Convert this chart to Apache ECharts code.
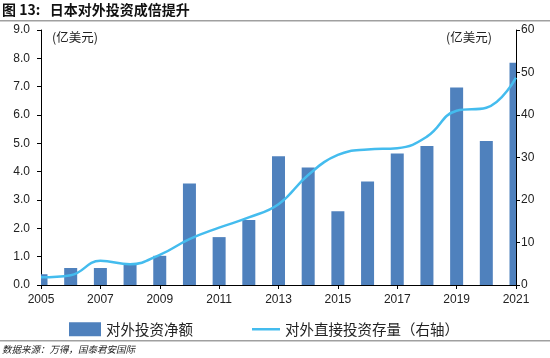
<!DOCTYPE html>
<html><head><meta charset="utf-8">
<script src="https://cdn.jsdelivr.net/npm/echarts@6/dist/echarts.min.js"></script>
<style>html,body{margin:0;padding:0;background:#fff}#c{width:550px;height:358px}</style>
</head><body><div id="c"></div>
<script>
var years = ['2005','2006','2007','2008','2009','2010','2011','2012','2013','2014','2015','2016','2017','2018','2019','2020','2021'];
var netInvestment = [0.38,0.6,0.6,0.74,1.03,3.58,1.69,2.29,4.54,4.15,2.6,3.65,4.64,4.91,6.97,5.08,7.84];
var fdiStock = [1.8,2.3,5.7,4.9,7.1,10.8,13.5,15.9,19.0,25.9,30.6,31.9,32.2,34.9,41.0,41.7,48.8];
var leftTicks = {min:0,max:9,interval:1};
var rightTicks = {min:0,max:60,interval:10};
var title = '图 13:   日本对外投资成倍提升';
var source = '数据来源：万得，国泰君安国际';
var unit = '(亿美元)';
var barName = '对外投资净额';
var lineName = '对外直接投资存量（右轴）';

var chart = echarts.init(document.getElementById('c'));
var cjk = '"Noto Sans CJK SC", sans-serif';
var lat = '"Liberation Sans", Arial, sans-serif';
var barColor = '#4F81BD';
var lineColor = '#44BCEE';
var barData = netInvestment.map(function(v,i){return [years[i], v];});

chart.setOption({
  animation:false,
  grid:{left:41,right:34,top:30,bottom:73},
  graphic:[
    {type:'text',left:2,top:3,style:{text:title,font:'bold 14px '+cjk,fill:'#111'}},
    {type:'rect',shape:{x:0,y:20,width:550,height:1.5},style:{fill:'#a0a0a0'}},
    {type:'rect',shape:{x:0,y:340,width:550,height:1.5},style:{fill:'#a0a0a0'}},
    {type:'text',left:2,top:345,style:{text:source,font:'italic 9.5px '+cjk,fill:'#222'}},
    {type:'text',left:52,top:31,style:{text:unit,font:'12.5px '+cjk,fill:'#222'}},
    {type:'text',left:446,top:31,style:{text:unit,font:'12.5px '+cjk,fill:'#222'}}
  ],
  legend:[
    {data:[{name:barName,icon:'rect'}],left:64,top:317,itemWidth:32,itemHeight:14,
     textStyle:{fontFamily:cjk,fontSize:14.5,color:'#222'}},
    {data:[{name:lineName,icon:'rect'}],left:247,top:317,itemWidth:28,itemHeight:2.5,
     textStyle:{fontFamily:cjk,fontSize:14.5,color:'#222'}}
  ],
  xAxis:{type:'category',data:years,boundaryGap:false,
    axisLine:{lineStyle:{color:'#000',width:1}},
    axisTick:{interval:1,length:4,lineStyle:{color:'#000'}},
    axisLabel:{interval:1,margin:9,fontFamily:lat,fontSize:12,color:'#222'}},
  yAxis:[
    {type:'value',min:leftTicks.min,max:leftTicks.max,interval:leftTicks.interval,
     splitLine:{show:false},
     axisLine:{show:true,lineStyle:{color:'#000'}},
     axisTick:{show:true,length:4,lineStyle:{color:'#000'}},
     axisLabel:{margin:11,fontFamily:lat,fontSize:12,color:'#222',formatter:function(v){return v.toFixed(1);}}},
    {type:'value',min:rightTicks.min,max:rightTicks.max,interval:rightTicks.interval,
     splitLine:{show:false},
     axisLine:{show:true,lineStyle:{color:'#000'}},
     axisTick:{show:true,length:4,lineStyle:{color:'#000'}},
     axisLabel:{margin:5,fontFamily:lat,fontSize:12,color:'#222'}}
  ],
  series:[
    {name:barName,type:'custom',data:barData,encode:{x:0,y:1},z:2,
     itemStyle:{color:barColor},
     renderItem:function(params, api){
       var top = api.coord([api.value(0), api.value(1)]);
       var base = api.coord([api.value(0), 0]);
       var w = 13;
       var cs = params.coordSys;
       var r = echarts.graphic.clipRectByRect(
         {x:top[0]-w/2, y:top[1], width:w, height:base[1]-top[1]},
         {x:cs.x, y:cs.y, width:cs.width, height:cs.height});
       return r && {type:'rect', shape:r, style:{fill:barColor}};
     }},
    {name:lineName,type:'line',yAxisIndex:1,data:fdiStock,smooth:0.45,z:3,
     symbol:'none',lineStyle:{color:lineColor,width:2.5},itemStyle:{color:lineColor}}
  ]
});
</script></body></html>
